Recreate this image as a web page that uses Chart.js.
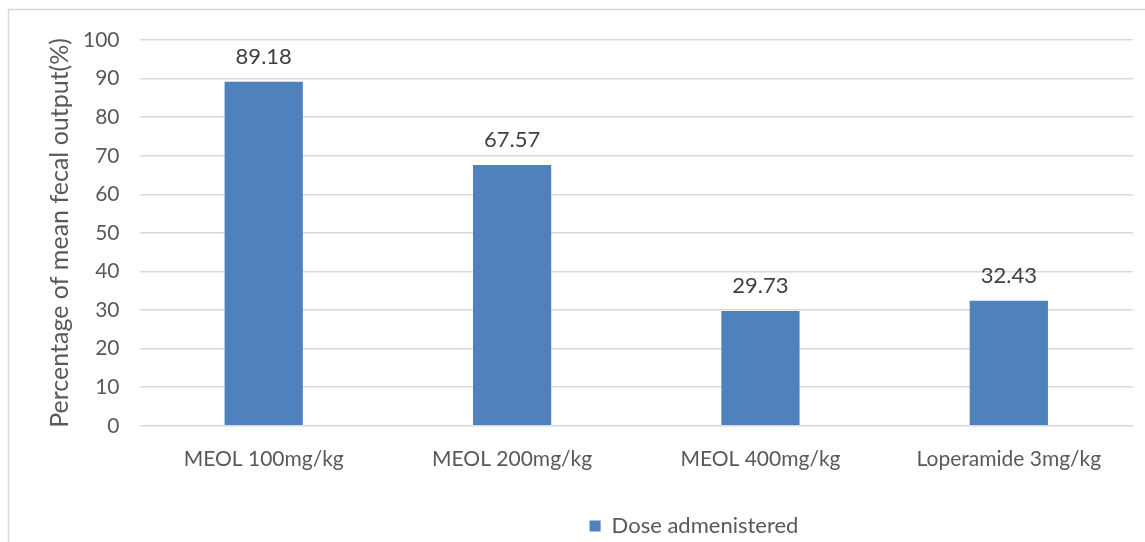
<!DOCTYPE html>
<html>
<head>
<meta charset="utf-8">
<script src="https://cdn.jsdelivr.net/npm/chart.js@4/dist/chart.umd.min.js"></script>
<style>
  html, body { margin: 0; padding: 0; background: #fff; }
  canvas { display: block; }
</style>
</head>
<body>
<canvas id="fecal-chart" width="1145" height="542"></canvas>
<script>
const groups = ["MEOL 100mg/kg", "MEOL 200mg/kg", "MEOL 400mg/kg", "Loperamide 3mg/kg"];
const fecalOutput = [89.18, 67.57, 29.73, 32.43];
const seriesName = "Dose admenistered";
const yTitle = "Percentage of mean fecal output(%)";

const textColor = "#595959";
const fontFamily = "Lato, 'Open Sans', sans-serif";

// light frame around the whole chart
const frame = {
  id: "frame",
  beforeDraw(chart) {
    const c = chart.ctx;
    c.save();
    c.strokeStyle = "#d9d9d9";
    c.lineWidth = 1.5;
    c.strokeRect(8.5, 9.5, chart.width + 20, chart.height + 20);
    c.restore();
  }
};

// legend sits right of centre and a little lower
const legendShift = {
  id: "legendShift",
  afterLayout(chart) {
    const lg = chart.legend;
    if (lg) {
      lg.left += 107; lg.right += 107;
      lg.top += 5; lg.bottom += 5;
    }
  }
};

// value written above each bar
const barValues = {
  id: "barValues",
  afterDatasetsDraw(chart) {
    const c = chart.ctx;
    const meta = chart.getDatasetMeta(0);
    c.save();
    c.font = "22px " + fontFamily;
    c.fillStyle = "#404040";
    c.textAlign = "center";
    c.textBaseline = "middle";
    meta.data.forEach((bar, i) => {
      c.fillText(fecalOutput[i].toFixed(2), bar.x, bar.y - 25);
    });
    c.restore();
  }
};

new Chart(document.getElementById("fecal-chart"), {
  type: "bar",
  data: {
    labels: groups,
    datasets: [{
      label: seriesName,
      data: fecalOutput,
      backgroundColor: "#4f81bd",
      barPercentage: 0.63,
      categoryPercentage: 0.5
    }]
  },
  options: {
    responsive: false,
    animation: false,
    layout: { padding: { left: 41, top: 40, right: 12, bottom: 0 } },
    plugins: {
      legend: {
        position: "bottom",
        labels: {
          boxWidth: 11,
          boxHeight: 11,
          color: textColor,
          font: { size: 22, family: fontFamily },
          padding: 4
        }
      },
      tooltip: { enabled: false }
    },
    scales: {
      x: {
        grid: { display: false },
        border: { display: false },
        ticks: { color: textColor, font: { size: 21, family: fontFamily }, padding: 13 },
        afterFit(scale) { scale.height += 21; }
      },
      y: {
        min: 0,
        max: 100,
        ticks: { stepSize: 10, color: textColor, font: { size: 21, family: fontFamily }, padding: 20 },
        grid: { color: "#d9d9d9", lineWidth: 1.5, drawTicks: false },
        border: { display: false },
        title: {
          display: true,
          text: yTitle,
          color: textColor,
          font: { size: 25, family: fontFamily },
          padding: { bottom: 0 }
        },
        afterFit(scale) { scale.width -= 12; }
      }
    }
  },
  plugins: [frame, legendShift, barValues]
});
</script>
</body>
</html>
